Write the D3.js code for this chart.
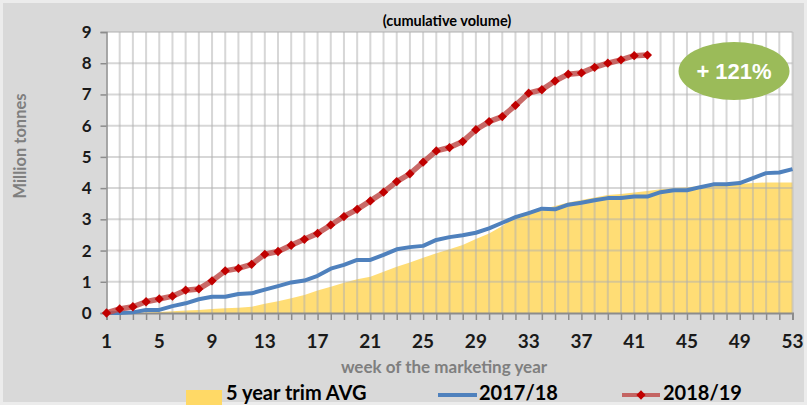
<!DOCTYPE html>
<html>
<head>
<meta charset="utf-8">
<script src="https://cdn.jsdelivr.net/npm/d3@7"></script>
<style>
  body { margin: 0; background: #d9d9d9; }
  svg { display: block; font-family: Lato, "Open Sans", sans-serif; }
</style>
</head>
<body>
<svg width="807" height="405"></svg>
<script>
// weeks of the marketing year
var weeks = d3.range(1, 54);
var xTicks = [1, 5, 9, 13, 17, 21, 25, 29, 33, 37, 41, 45, 49, 53];
var yTicks = [0, 1, 2, 3, 4, 5, 6, 7, 8, 9];

// 5 year trim AVG (area), million tonnes
var avg5 = [0, 0, 0, 0.02, 0.03, 0.06, 0.08, 0.1, 0.13, 0.15, 0.17, 0.2, 0.3, 0.38, 0.47, 0.58,
  0.72, 0.84, 0.97, 1.08, 1.16, 1.32, 1.48, 1.62, 1.77, 1.91, 2.04, 2.18, 2.37, 2.55, 2.79, 3.1,
  3.24, 3.32, 3.43, 3.54, 3.62, 3.7, 3.78, 3.81, 3.86, 3.91, 3.96, 4.0, 4.03, 4.07, 4.1, 4.12,
  4.13, 4.16, 4.18, 4.18, 4.18];

// 2017/18
var s1718 = [0, 0, 0.02, 0.1, 0.1, 0.22, 0.31, 0.44, 0.52, 0.52, 0.61, 0.63, 0.75, 0.86, 0.98, 1.04,
  1.19, 1.42, 1.54, 1.7, 1.7, 1.86, 2.04, 2.11, 2.15, 2.34, 2.43, 2.49, 2.57, 2.71, 2.89, 3.07,
  3.2, 3.34, 3.32, 3.47, 3.53, 3.61, 3.68, 3.68, 3.73, 3.73, 3.87, 3.93, 3.93, 4.03, 4.12, 4.12,
  4.16, 4.32, 4.48, 4.5, 4.61];

// 2018/19 (up to week 42)
var s1819 = [0, 0.13, 0.2, 0.36, 0.45, 0.54, 0.73, 0.77, 1.03, 1.35, 1.43, 1.56, 1.88, 1.97, 2.17, 2.36,
  2.55, 2.82, 3.09, 3.32, 3.59, 3.87, 4.21, 4.46, 4.83, 5.19, 5.3, 5.49, 5.87, 6.13, 6.29, 6.65,
  7.04, 7.15, 7.43, 7.65, 7.69, 7.87, 8.0, 8.11, 8.24, 8.26];

var svg = d3.select("svg"),
    width = +svg.attr("width"),
    height = +svg.attr("height");

var x = d3.scaleLinear().domain([1, 53]).range([106.5, 792.5]);
var y = d3.scaleLinear().domain([0, 9]).range([313, 32]);

// background with lighter frame
svg.append("rect")
    .attr("x", 1.5).attr("y", 1.5)
    .attr("width", width - 3).attr("height", height - 3)
    .attr("fill", "#d9d9d9")
    .attr("stroke", "#ececec")
    .attr("stroke-width", 3);

// plot area
svg.append("rect")
    .attr("x", x(1)).attr("y", y(9))
    .attr("width", x(53) - x(1)).attr("height", y(0) - y(9))
    .attr("fill", "#ffffff");

// area series
var area = d3.area()
    .x(function (d, i) { return x(weeks[i]); })
    .y0(y(0))
    .y1(function (d) { return y(d); });

svg.append("path")
    .datum(avg5)
    .attr("d", area)
    .attr("fill", "#ffd966")
    .attr("fill-opacity", 0.9);

// grid
var grid = svg.append("g").attr("class", "grid");
grid.selectAll("line.v")
    .data(weeks.slice(1))
    .enter().append("line")
    .attr("class", "v")
    .attr("x1", function (d) { return x(d); })
    .attr("x2", function (d) { return x(d); })
    .attr("y1", y(9))
    .attr("y2", y(0))
    .attr("stroke", "#b0b0b0")
    .attr("stroke-opacity", 0.5)
    .attr("stroke-width", 2);

grid.selectAll("line.h")
    .data(yTicks.slice(1))
    .enter().append("line")
    .attr("class", "h")
    .attr("x1", x(1))
    .attr("x2", x(53))
    .attr("y1", function (d) { return y(d); })
    .attr("y2", function (d) { return y(d); })
    .attr("stroke", "#b0b0b0")
    .attr("stroke-opacity", 0.5)
    .attr("stroke-width", 2);

// axes
var xAxis = svg.append("g")
    .attr("transform", "translate(0," + y(0) + ")")
    .call(d3.axisBottom(x).tickValues(weeks).tickSize(7).tickFormat(""));
xAxis.select(".domain").attr("stroke", "#8c8c8c").attr("stroke-width", 2);
xAxis.selectAll(".tick line").attr("stroke", "#8c8c8c").attr("stroke-width", 1.5);

svg.append("g")
    .selectAll("text")
    .data(xTicks)
    .enter().append("text")
    .attr("x", function (d) { return x(d); })
    .attr("y", 348)
    .attr("text-anchor", "middle")
    .attr("font-size", 19)
    .attr("font-weight", "bold")
    .attr("fill", "#1a1a1a")
    .text(function (d) { return d; });

var yAxis = svg.append("g")
    .attr("transform", "translate(" + x(1) + ",0)")
    .call(d3.axisLeft(y).tickValues(yTicks).tickSize(6).tickPadding(9));
yAxis.select(".domain").attr("stroke", "#8c8c8c").attr("stroke-width", 1.5);
yAxis.selectAll(".tick line").attr("stroke", "#8c8c8c").attr("stroke-width", 1.5);
yAxis.selectAll(".tick text")
    .attr("font-size", 17)
    .attr("font-weight", "bold")
    .attr("fill", "#1a1a1a")
    .attr("font-family", "Lato, sans-serif");

// lines
var line = d3.line()
    .x(function (d, i) { return x(weeks[i]); })
    .y(function (d) { return y(d); });

svg.append("path")
    .datum(s1718)
    .attr("d", line)
    .attr("fill", "none")
    .attr("stroke", "#4f81bd")
    .attr("stroke-width", 4)
    .attr("stroke-linejoin", "round");

svg.append("path")
    .datum(s1819)
    .attr("d", line)
    .attr("fill", "none")
    .attr("stroke", "#c0504d")
    .attr("stroke-opacity", 0.85)
    .attr("stroke-width", 5.5)
    .attr("stroke-linejoin", "round");

var diamond = d3.symbol().type(d3.symbolDiamond2).size(55);
svg.append("g")
    .selectAll("path")
    .data(s1819)
    .enter().append("path")
    .attr("d", diamond)
    .attr("transform", function (d, i) { return "translate(" + x(weeks[i]) + "," + y(d) + ")"; })
    .attr("fill", "#c00000");

// titles
svg.append("text")
    .attr("x", 447).attr("y", 26)
    .attr("text-anchor", "middle")
    .attr("font-size", 14.5)
    .attr("font-weight", "bold")
    .attr("fill", "#000")
    .text("(cumulative volume)");

svg.append("text")
    .attr("transform", "translate(26,146) rotate(-90)")
    .attr("text-anchor", "middle")
    .attr("font-size", 16.5)
    .attr("font-weight", "bold")
    .attr("fill", "#7f7f7f")
    .text("Million tonnes");

svg.append("text")
    .attr("x", 444).attr("y", 373)
    .attr("text-anchor", "middle")
    .attr("font-size", 17)
    .attr("font-weight", "bold")
    .attr("fill", "#7f7f7f")
    .text("week of the marketing year");

// badge
svg.append("ellipse")
    .attr("cx", 734).attr("cy", 71)
    .attr("rx", 55.5).attr("ry", 29)
    .attr("fill", "#9bbb59");
svg.append("text")
    .attr("x", 734).attr("y", 79)
    .attr("text-anchor", "middle")
    .attr("font-size", 22)
    .attr("font-weight", "bold")
    .attr("font-family", "'Liberation Sans', Arial, sans-serif")
    .attr("fill", "#ffffff")
    .text("+ 121%");

// legend
var legend = svg.append("g").attr("font-size", 20).attr("font-weight", "bold").attr("fill", "#000");
legend.append("rect")
    .attr("x", 186).attr("y", 390)
    .attr("width", 36).attr("height", 15)
    .attr("fill", "#ffd966");
legend.append("text").attr("x", 226).attr("y", 400).text("5 year trim AVG");

legend.append("line")
    .attr("x1", 438).attr("x2", 477)
    .attr("y1", 395).attr("y2", 395)
    .attr("stroke", "#4f81bd").attr("stroke-width", 4);
legend.append("text").attr("x", 479).attr("y", 400).text("2017/18");

legend.append("line")
    .attr("x1", 622).attr("x2", 660)
    .attr("y1", 395).attr("y2", 395)
    .attr("stroke", "#c0504d").attr("stroke-opacity", 0.85).attr("stroke-width", 4);
legend.append("path")
    .attr("d", diamond)
    .attr("transform", "translate(641,395)")
    .attr("fill", "#c00000");
legend.append("text").attr("x", 663).attr("y", 400).text("2018/19");
</script>
</body>
</html>
